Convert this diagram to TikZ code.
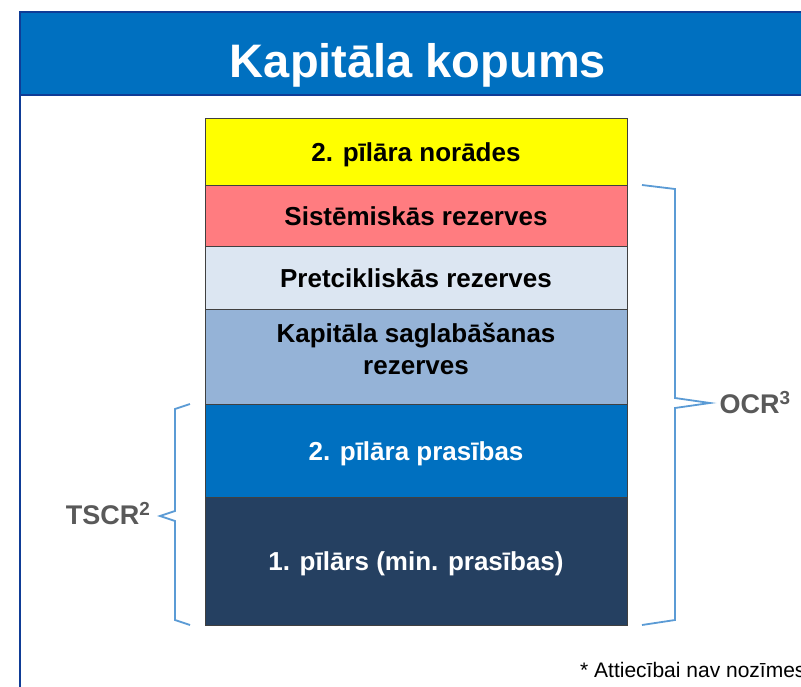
\documentclass[tikz,border=0pt]{standalone}
\usepackage{fontspec}
\setmainfont{Liberation Sans}
\usepackage{xcolor}
\usetikzlibrary{positioning}

\definecolor{titleblue}{HTML}{0070C0}
\definecolor{frameblue}{HTML}{0F3C96}
\definecolor{pyellow}{HTML}{FFFF00}
\definecolor{pred}{HTML}{FF7C80}
\definecolor{plight}{HTML}{DCE6F2}
\definecolor{pmid}{HTML}{95B3D7}
\definecolor{pblue}{HTML}{0070C0}
\definecolor{pnavy}{HTML}{254061}
\definecolor{bracecol}{HTML}{5B9BD5}
\definecolor{labgray}{HTML}{595959}

\begin{document}
\begin{tikzpicture}[
    x=1pt, y=-1pt,
    node distance=0pt,
    layer/.style={draw=black!75, line width=0.9pt, outer sep=0pt, minimum width=422pt, align=center,
        text height=20pt, text depth=1pt, font=\fontsize{26}{32}\selectfont\bfseries},
    brace/.style={draw=bracecol, line width=1.8pt, line join=miter},
    sidelab/.style={text=labgray, font=\fontsize{27}{30}\selectfont\bfseries},
]
\useasboundingbox (0,0) rectangle (801,686);
\clip (0,0) rectangle (801,686);
% frame and title bar
\draw[frameblue, line width=1.2pt] (20,12) rectangle (840,720);
\node[draw=frameblue, line width=2pt, fill=titleblue, minimum width=830pt, minimum height=83pt, anchor=north west, outer sep=0pt] (bar) at (20,12) {};
\node[text=white, anchor=base, font=\fontsize{47}{50}\selectfont\bfseries] (title) at (418,77) {Kapitāla kopums};
% stack of layers
\node[layer, fill=pyellow, minimum height=67pt, anchor=north] (p2g) at (416,118) {2. pīlāra norādes};
\node[layer, fill=pred, minimum height=61pt, below=of p2g] (sys) {Sistēmiskās rezerves};
\node[layer, fill=plight, minimum height=63pt, below=of sys] (ccyb) {Pretcikliskās rezerves};
\node[layer, fill=pmid, minimum height=95pt, text height={}, text depth=15pt, below=of ccyb] (ccb) {Kapitāla saglabāšanas\\rezerves};
\node[layer, fill=pblue, text=white, minimum height=93pt, below=of ccb] (p2r) {2. pīlāra prasības};
\node[layer, fill=pnavy, text=white, minimum height=128pt, below=of p2r] (p1) {1. pīlārs (min. prasības)};
% braces
\coordinate (ocrtip) at (710,403);
\coordinate (tscrtip) at (160,516);
\draw[brace] ([xshift=15]sys.north east) -- (675,189) -- (675,398) -- (ocrtip)
    -- (675,408) -- (675,620) -- ([xshift=15]p1.south east);
\draw[brace] ([xshift=-15]p2r.north west) -- (175,409) -- (175,511) -- (tscrtip)
    -- (175,521) -- (175,620) -- ([xshift=-15]p1.south west);
\node[sidelab, anchor=west] (ocr) at (716,403) {OCR\textsuperscript{3}};
\node[sidelab, anchor=east] (tscr) at (154,514) {TSCR\textsuperscript{2}};
% footnote
\node[anchor=base west, inner sep=0pt, font=\fontsize{21}{24}\selectfont] (note) at (580,677) {* Attiecībai nav nozīmes};
\end{tikzpicture}
\end{document}
